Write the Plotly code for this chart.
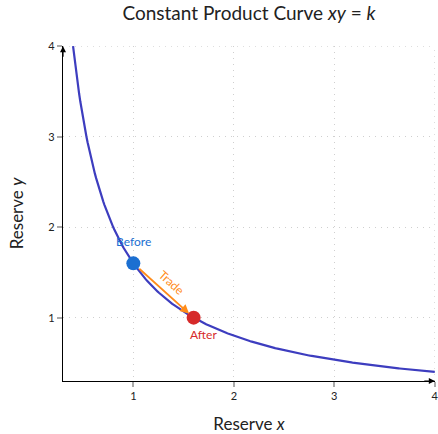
import numpy as np
import plotly.graph_objects as go

# Constant product invariant k = x * y
k = 1.6
x_curve = np.linspace(0.4, 4.0, 300)
y_curve = k / x_curve

# Trade points on the curve
before_x, before_y = [1.0], [1.6]
after_x, after_y = [1.6], [1.0]

x_ticks = [1, 2, 3, 4]
y_ticks = [1, 2, 3, 4]
x_range = [0.3, 4.002]
y_range = [0.3, 4.002]

FONT = "Lato"
BLUE = "#1b6fd1"
RED = "#d62a2a"
ORANGE = "#ff8c1a"
CURVE = "#3d3dbf"
TEXT = "#222222"
GRID = "#cfcfcf"
GRID_DASH = "1px,5px"

fig = go.Figure()

fig.add_trace(go.Scatter(x=x_curve, y=y_curve, mode="lines",
                         line=dict(color=CURVE, width=2.2),
                         hoverinfo="skip", showlegend=False))

# Trade arrow from the pre-trade point to the post-trade point
fig.add_annotation(x=after_x[0], y=after_y[0], ax=before_x[0], ay=before_y[0],
                   xref="x", yref="y", axref="x", ayref="y",
                   showarrow=True, arrowhead=2, arrowsize=1, arrowwidth=1.8,
                   arrowcolor=ORANGE, standoff=6, startstandoff=6, text="")

fig.add_trace(go.Scatter(x=before_x, y=before_y, mode="markers",
                         marker=dict(color=BLUE, size=14),
                         showlegend=False))
fig.add_trace(go.Scatter(x=after_x, y=after_y, mode="markers",
                         marker=dict(color=RED, size=14),
                         showlegend=False))

fig.add_annotation(x=before_x[0], y=before_y[0], text="Before", showarrow=False,
                   xref="x", yref="y", xshift=0, yshift=22,
                   font=dict(family=FONT, size=12, color=BLUE))
fig.add_annotation(x=after_x[0], y=after_y[0], text="After", showarrow=False,
                   xref="x", yref="y", xshift=10, yshift=-17,
                   font=dict(family=FONT, size=12, color=RED))
fig.add_annotation(x=(before_x[0] + after_x[0]) / 2, y=(before_y[0] + after_y[0]) / 2,
                   text="Trade", showarrow=False, xref="x", yref="y",
                   textangle=42, xshift=8, yshift=8,
                   font=dict(family=FONT, size=12, color=ORANGE))

# Grid lines on the outer edges (top and right) of the plotting area
fig.add_shape(type="line", xref="x", yref="y", x0=x_range[0], x1=x_ticks[-1],
              y0=y_ticks[-1], y1=y_ticks[-1], layer="below",
              line=dict(color=GRID, width=1, dash=GRID_DASH))
fig.add_shape(type="line", xref="x", yref="y", x0=x_ticks[-1], x1=x_ticks[-1],
              y0=y_range[0], y1=y_ticks[-1], layer="below",
              line=dict(color=GRID, width=1, dash=GRID_DASH))

# Arrowheads at the ends of both axes
fig.add_annotation(x=4.0, y=y_range[0], ax=-12, ay=0, xref="x", yref="y",
                   showarrow=True, arrowhead=2, arrowsize=1, arrowwidth=1.2,
                   arrowcolor="black", text="")
fig.add_annotation(x=x_range[0], y=4.0, ax=0, ay=12, xref="x", yref="y",
                   showarrow=True, arrowhead=2, arrowsize=1, arrowwidth=1.2,
                   arrowcolor="black", text="")

axis_common = dict(
    showline=True, linecolor="black", linewidth=1.2,
    showgrid=True, gridcolor=GRID, griddash=GRID_DASH, gridwidth=1,
    ticks="outside", ticklen=5, tickcolor="#aaaaaa", tickwidth=1.5,
    tickfont=dict(family=FONT, size=11, color=TEXT),
    ticklabeloverflow="allow", automargin=False,
    zeroline=False, mirror=False,
)

fig.update_xaxes(range=x_range, tickvals=x_ticks,
                 title=dict(text="Reserve <i>x</i>", standoff=24,
                            font=dict(family=FONT, size=17, color=TEXT)),
                 **axis_common)
fig.update_yaxes(range=y_range, tickvals=y_ticks,
                 title=dict(text="Reserve <i>y</i>", standoff=20,
                            font=dict(family=FONT, size=17, color=TEXT)),
                 **axis_common)

fig.update_layout(
    width=438, height=434,
    margin=dict(l=63, r=3, t=46, b=53, autoexpand=False),
    plot_bgcolor="white", paper_bgcolor="white",
    title=dict(text="Constant Product Curve <i>xy</i> = <i>k</i>",
               x=0.5, xref="paper", y=0.985, yanchor="top",
               font=dict(family=FONT, size=19, color=TEXT)),
    showlegend=False,
)

fig.write_html("out.html")
